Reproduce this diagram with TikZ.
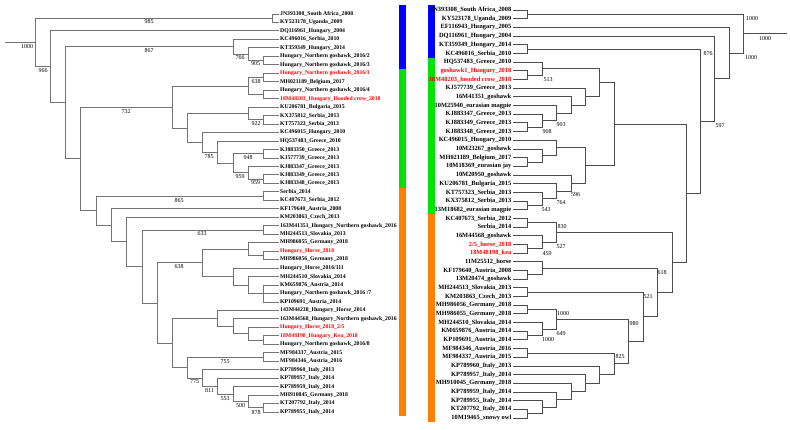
\documentclass[tikz,border=0pt]{standalone}
\usepackage{fontspec}
\setmainfont{Liberation Serif}
\usepackage{tikz, xcolor}
\definecolor{barblue}{RGB}{0,0,255}
\definecolor{bargreen}{RGB}{0,226,0}
\definecolor{barorange}{RGB}{255,128,0}

\begin{document}
\begin{tikzpicture}[x=1pt, y=-1pt]
\tikzstyle{taxl}=[anchor=west, inner sep=1pt, font=\fontsize{5.75}{6}\selectfont\bfseries]
\tikzstyle{taxr}=[anchor=east, inner sep=1pt, font=\fontsize{6.4}{7}\selectfont\bfseries]
\tikzstyle{hot}=[text=red]
\tikzstyle{boot}=[inner sep=0pt, font=\fontsize{6}{6}\selectfont]
\tikzstyle{edgel}=[draw=black!55, line width=0.9pt]
\tikzstyle{edger}=[draw=black!70, line width=0.7pt]

\path[use as bounding box, fill=white] (0,0) rectangle (790,429);

% left tree, taxa
\node[taxl] (L1) at (279,14) {JN393308\_South Africa\_2008};
\node[taxl] (L2) at (279,22.5) {KY523178\_Uganda\_2009};
\node[taxl] (L3) at (279,30.9) {DQ116961\_Hungary\_2004};
\node[taxl] (L4) at (279,39.4) {KC496016\_Serbia\_2010};
\node[taxl] (L5) at (279,47.9) {KT359349\_Hungary\_2014};
\node[taxl] (L6) at (279,56.4) {Hungary\_Northern goshawk\_2016/2};
\node[taxl] (L7) at (279,64.8) {Hungary\_Northern goshawk\_2016/3};
\node[taxl, hot] (L8) at (279,73.3) {Hungary\_Northern goshawk\_2016/1};
\node[taxl] (L9) at (279,81.8) {MH021189\_Belgium\_2017};
\node[taxl] (L10) at (279,90.2) {Hungary\_Northern goshawk\_2016/4};
\node[taxl, hot] (L11) at (279,98.7) {18M48203\_Hungary\_Hooded crow\_2018};
\node[taxl] (L12) at (279,107.2) {KU206781\_Bulgaria\_2015};
\node[taxl] (L13) at (279,115.6) {KX375812\_Serbia\_2013};
\node[taxl] (L14) at (279,124.1) {KT757323\_Serbia\_2013};
\node[taxl] (L15) at (279,132.6) {KC496015\_Hungary\_2010};
\node[taxl] (L16) at (279,141.1) {HQ537483\_Greece\_2010};
\node[taxl] (L17) at (279,149.5) {KJ883350\_Greece\_2013};
\node[taxl] (L18) at (279,158.0) {KJ577739\_Greece\_2013};
\node[taxl] (L19) at (279,166.5) {KJ883347\_Greece\_2013};
\node[taxl] (L20) at (279,174.9) {KJ883349\_Greece\_2013};
\node[taxl] (L21) at (279,183.4) {KJ883348\_Greece\_2013};
\node[taxl] (L22) at (279,191.9) {Serbia\_2014};
\node[taxl] (L23) at (279,200.3) {KC407673\_Serbia\_2012};
\node[taxl] (L24) at (279,208.8) {KF179640\_Austria\_2008};
\node[taxl] (L25) at (279,217.3) {KM203863\_Czech\_2013};
\node[taxl] (L26) at (279,225.8) {163M41351\_Hungary\_Northern goshawk\_2016};
\node[taxl] (L27) at (279,234.2) {MH244513\_Slovakia\_2013};
\node[taxl] (L28) at (279,242.7) {MH986055\_Germany\_2018};
\node[taxl, hot] (L29) at (279,251.2) {Hungary\_Horse\_2018};
\node[taxl] (L30) at (279,259.6) {MH986056\_Germany\_2018};
\node[taxl] (L31) at (279,268.1) {Hungary\_Horse\_2016/111};
\node[taxl] (L32) at (279,276.6) {MH244510\_Slovakia\_2014};
\node[taxl] (L33) at (279,285.0) {KM659876\_Austria\_2014};
\node[taxl] (L34) at (279,293.5) {Hungary\_Northern goshawk\_2016 /7};
\node[taxl] (L35) at (279,302.0) {KP109691\_Austria\_2014};
\node[taxl] (L36) at (279,310.5) {143M44238\_Hungary\_Horse\_2014};
\node[taxl] (L37) at (279,318.9) {163M44568\_Hungary\_Northern goshawk\_2016};
\node[taxl, hot] (L38) at (279,327.4) {Hungary\_Horse\_2018\_2/5};
\node[taxl, hot] (L39) at (279,335.9) {18M48198\_Hungary\_Kea\_2018};
\node[taxl] (L40) at (279,344.3) {Hungary\_Northern goshawk\_2016/8};
\node[taxl] (L41) at (279,352.8) {MF984337\_Austria\_2015};
\node[taxl] (L42) at (279,361.3) {MF984346\_Austria\_2016};
\node[taxl] (L43) at (279,369.7) {KP789960\_Italy\_2013};
\node[taxl] (L44) at (279,378.2) {KP789957\_Italy\_2014};
\node[taxl] (L45) at (279,386.7) {KP789959\_Italy\_2014};
\node[taxl] (L46) at (279,395.2) {MH910845\_Germany\_2018};
\node[taxl] (L47) at (279,403.6) {KT207792\_Italy\_2014};
\node[taxl] (L48) at (279,412.1) {KP789955\_Italy\_2014};

% left tree, inner nodes
\coordinate (A1) at (272,18.2);
\coordinate (A2) at (263,60.6);
\coordinate (A3) at (248,54.2);
\coordinate (A4) at (233,46.8);
\coordinate (A5) at (263,77.5);
\coordinate (A6) at (263,94.5);
\coordinate (A7) at (248,86.0);
\coordinate (A8) at (263,119.9);
\coordinate (A9) at (248,113.5);
\coordinate (A10) at (263,153.8);
\coordinate (A11) at (263,179.2);
\coordinate (A12) at (248,172.8);
\coordinate (A13) at (233,163.3);
\coordinate (A14) at (217,152.2);
\coordinate (A15) at (202,142.4);
\coordinate (A16) at (187,128.0);
\coordinate (A17) at (172,107.0);
\coordinate (A18) at (263,196.1);
\coordinate (A19) at (263,230.0);
\coordinate (A20) at (263,255.4);
\coordinate (A21) at (248,249.1);
\coordinate (A22) at (263,293.5);
\coordinate (A23) at (248,285.1);
\coordinate (A24) at (233,276.6);
\coordinate (A25) at (202,262.9);
\coordinate (A26) at (263,340.1);
\coordinate (A27) at (248,333.8);
\coordinate (A28) at (233,326.4);
\coordinate (A29) at (217,318.5);
\coordinate (A30) at (263,357.1);
\coordinate (A31) at (263,407.9);
\coordinate (A32) at (248,401.6);
\coordinate (A33) at (233,394.2);
\coordinate (A34) at (217,386.2);
\coordinate (A35) at (202,378.0);
\coordinate (A36) at (187,367.6);
\coordinate (A37) at (172,343.1);
\coordinate (A38) at (157,303.0);
\coordinate (A39) at (142,266.5);
\coordinate (A40) at (126,241.9);
\coordinate (A41) at (111,225.4);
\coordinate (A42) at (96,210.8);
\coordinate (A43) at (80,158.9);
\coordinate (A44) at (65,102.9);
\coordinate (A45) at (50,66.9);
\coordinate (A46) at (35,42.6);
\coordinate (L0) at (5,42.6);

% left tree, branches
\draw[edgel] (A1) |- (L1) (A1) |- (L2);
\draw[edgel] (A2) |- (L6) (A2) |- (L7);
\draw[edgel] (A3) |- (L5) (A3) |- (A2);
\draw[edgel] (A4) |- (L4) (A4) |- (A3);
\draw[edgel] (A5) |- (L8) (A5) |- (L9);
\draw[edgel] (A6) |- (L10) (A6) |- (L11);
\draw[edgel] (A7) |- (A5) (A7) |- (A6);
\draw[edgel] (A8) |- (L13) (A8) |- (L14);
\draw[edgel] (A9) |- (L12) (A9) |- (A8);
\draw[edgel] (A10) |- (L17) (A10) |- (L18);
\draw[edgel] (A11) |- (L20) (A11) |- (L21);
\draw[edgel] (A12) |- (L19) (A12) |- (A11);
\draw[edgel] (A13) |- (A10) (A13) |- (A12);
\draw[edgel] (A14) |- (L16) (A14) |- (A13);
\draw[edgel] (A15) |- (L15) (A15) |- (A14);
\draw[edgel] (A16) |- (A9) (A16) |- (A15);
\draw[edgel] (A17) |- (A7) (A17) |- (A16);
\draw[edgel] (A18) |- (L22) (A18) |- (L23);
\draw[edgel] (A19) |- (L26) (A19) |- (L27);
\draw[edgel] (A20) |- (L29) (A20) |- (L30);
\draw[edgel] (A21) |- (L28) (A21) |- (A20);
\draw[edgel] (A22) |- (L33) (A22) |- (L34) (A22) |- (L35);
\draw[edgel] (A23) |- (L32) (A23) |- (A22);
\draw[edgel] (A24) |- (L31) (A24) |- (A23);
\draw[edgel] (A25) |- (A21) (A25) |- (A24);
\draw[edgel] (A26) |- (L39) (A26) |- (L40);
\draw[edgel] (A27) |- (L38) (A27) |- (A26);
\draw[edgel] (A28) |- (L37) (A28) |- (A27);
\draw[edgel] (A29) |- (L36) (A29) |- (A28);
\draw[edgel] (A30) |- (L41) (A30) |- (L42);
\draw[edgel] (A31) |- (L47) (A31) |- (L48);
\draw[edgel] (A32) |- (L46) (A32) |- (A31);
\draw[edgel] (A33) |- (L45) (A33) |- (A32);
\draw[edgel] (A34) |- (L44) (A34) |- (A33);
\draw[edgel] (A35) |- (L43) (A35) |- (A34);
\draw[edgel] (A36) |- (A30) (A36) |- (A35);
\draw[edgel] (A37) |- (A29) (A37) |- (A36);
\draw[edgel] (A38) |- (A25) (A38) |- (A37);
\draw[edgel] (A39) |- (A19) (A39) |- (A38);
\draw[edgel] (A40) |- (L25) (A40) |- (A39);
\draw[edgel] (A41) |- (L24) (A41) |- (A40);
\draw[edgel] (A42) |- (A18) (A42) |- (A41);
\draw[edgel] (A43) |- (A17) (A43) |- (A42);
\draw[edgel] (A44) |- (A4) (A44) |- (A43);
\draw[edgel] (A45) |- (L3) (A45) |- (A44);
\draw[edgel] (A46) |- (A1) (A46) |- (A45);
\draw[edgel] (L0) -- (A46);

% left tree, support values
\node[boot] (s1) at (27,46.5) {1000};
\node[boot] (s2) at (149,22) {985};
\node[boot] (s3) at (43,71) {966};
\node[boot] (s4) at (149,50.5) {867};
\node[boot] (s5) at (240,57.5) {766};
\node[boot] (s6) at (255.5,64) {905};
\node[boot] (s7) at (256,81.5) {638};
\node[boot] (s8) at (256,123.5) {922};
\node[boot] (s9) at (126,111.5) {732};
\node[boot] (s10) at (209,156.5) {785};
\node[boot] (s11) at (248,157.5) {948};
\node[boot] (s12) at (240,176.5) {959};
\node[boot] (s13) at (255.5,183) {959};
\node[boot] (s14) at (179,200.5) {865};
\node[boot] (s15) at (202,234) {633};
\node[boot] (s16) at (179,266.5) {638};
\node[boot] (s17) at (225,361.5) {755};
\node[boot] (s18) at (194.5,382) {775};
\node[boot] (s19) at (209.5,390.5) {811};
\node[boot] (s20) at (225,398.5) {553};
\node[boot] (s21) at (240.5,405.5) {500};
\node[boot] (s22) at (256,413) {878};

% left bars
\fill[barblue] (399,5) rectangle (406,69);
\fill[bargreen] (399,69) rectangle (406,187.6);
\fill[barorange] (399,187.6) rectangle (406,416);

% right bars
\fill[barblue] (428,5) rectangle (435,57.7);
\fill[bargreen] (428,57.7) rectangle (435,214);
\fill[barorange] (428,214) rectangle (435,422);

% right tree, taxa
\node[taxr] (R1) at (512.5,10.0) {JN393308\_South Africa\_2008};
\node[taxr] (R2) at (512.5,18.7) {KY523178\_Uganda\_2009};
\node[taxr] (R3) at (512.5,27.4) {EF116943\_Hungary\_2005};
\node[taxr] (R4) at (512.5,36.0) {DQ116961\_Hungary\_2004};
\node[taxr] (R5) at (512.5,44.7) {KT359349\_Hungary\_2014};
\node[taxr] (R6) at (512.5,53.4) {KC496016\_Serbia\_2010};
\node[taxr] (R7) at (512.5,62.1) {HQ537483\_Greece\_2010};
\node[taxr, hot] (R8) at (512.5,70.8) {goshawk1\_Hungary\_2018};
\node[taxr, hot] (R9) at (512.5,79.4) {18M48203\_hooded crow\_2018};
\node[taxr] (R10) at (512.5,88.1) {KJ577739\_Greece\_2013};
\node[taxr] (R11) at (512.5,96.8) {16M41351\_goshawk};
\node[taxr] (R12) at (512.5,105.5) {10M25940\_eurasian magpie};
\node[taxr] (R13) at (512.5,114.2) {KJ883347\_Greece\_2013};
\node[taxr] (R14) at (512.5,122.8) {KJ883349\_Greece\_2013};
\node[taxr] (R15) at (512.5,131.5) {KJ883348\_Greece\_2013};
\node[taxr] (R16) at (512.5,140.2) {KC496015\_Hungary\_2010};
\node[taxr] (R17) at (512.5,148.9) {10M23267\_goshawk};
\node[taxr] (R18) at (512.5,157.6) {MH021189\_Belgium\_2017};
\node[taxr] (R19) at (512.5,166.2) {10M18369\_eurasian jay};
\node[taxr] (R20) at (512.5,174.9) {10M20950\_goshawk};
\node[taxr] (R21) at (512.5,183.6) {KU206781\_Bulgaria\_2015};
\node[taxr] (R22) at (512.5,192.3) {KT757323\_Serbia\_2013};
\node[taxr] (R23) at (512.5,201.0) {KX375812\_Serbia\_2013};
\node[taxr] (R24) at (512.5,209.6) {13M18682\_eurasian magpie};
\node[taxr] (R25) at (512.5,218.3) {KC407673\_Serbia\_2012};
\node[taxr] (R26) at (512.5,227.0) {Serbia\_2014};
\node[taxr] (R27) at (512.5,235.7) {16M44568\_goshawk};
\node[taxr, hot] (R28) at (512.5,244.4) {2/5\_horse\_2018};
\node[taxr, hot] (R29) at (512.5,253.0) {18M48198\_kea};
\node[taxr] (R30) at (512.5,261.7) {11M25512\_horse};
\node[taxr] (R31) at (512.5,270.4) {KF179640\_Austria\_2008};
\node[taxr] (R32) at (512.5,279.1) {13M20474\_goshawk};
\node[taxr] (R33) at (512.5,287.8) {MH244513\_Slovakia\_2013};
\node[taxr] (R34) at (512.5,296.4) {KM203863\_Czech\_2013};
\node[taxr] (R35) at (512.5,305.1) {MH986056\_Germany\_2018};
\node[taxr] (R36) at (512.5,313.8) {MH986055\_Germany\_2018};
\node[taxr] (R37) at (512.5,322.5) {MH244510\_Slovakia\_2014};
\node[taxr] (R38) at (512.5,331.2) {KM659876\_Austria\_2014};
\node[taxr] (R39) at (512.5,339.8) {KP109691\_Austria\_2014};
\node[taxr] (R40) at (512.5,348.5) {MF984346\_Austria\_2016};
\node[taxr] (R41) at (512.5,357.2) {MF984337\_Austria\_2015};
\node[taxr] (R42) at (512.5,365.9) {KP789960\_Italy\_2013};
\node[taxr] (R43) at (512.5,374.6) {KP789957\_Italy\_2014};
\node[taxr] (R44) at (512.5,383.2) {MH910045\_Germany\_2018};
\node[taxr] (R45) at (512.5,391.9) {KP789959\_Italy\_2014};
\node[taxr] (R46) at (512.5,400.6) {KP789955\_Italy\_2014};
\node[taxr] (R47) at (512.5,409.3) {KT207792\_Italy\_2014};
\node[taxr] (R48) at (512.5,418.0) {10M19465\_snowy owl};

% right tree, inner nodes
\coordinate (B1) at (527,14.35);
\coordinate (B2) at (527,49.05);
\coordinate (B3) at (527,75.1);
\coordinate (B4) at (542,68.6);
\coordinate (B5) at (527,127.15);
\coordinate (B6) at (542,120.7);
\coordinate (B7) at (556,113.1);
\coordinate (B8) at (571,104.95);
\coordinate (B9) at (585,96.5);
\coordinate (B10) at (599,82.55);
\coordinate (B11) at (527,161.9);
\coordinate (B12) at (542,155.4);
\coordinate (B13) at (556,147.8);
\coordinate (B14) at (527,205.3);
\coordinate (B15) at (542,198.8);
\coordinate (B16) at (556,191.2);
\coordinate (B17) at (571,183.05);
\coordinate (B18) at (585,165.4);
\coordinate (B19) at (614,124.0);
\coordinate (B20) at (527,222.65);
\coordinate (B21) at (527,248.7);
\coordinate (B22) at (542,242.2);
\coordinate (B23) at (556,232.4);
\coordinate (B24) at (527,274.75);
\coordinate (B25) at (542,268.2);
\coordinate (B26) at (527,292.1);
\coordinate (B27) at (527,309.45);
\coordinate (B28) at (527,335.5);
\coordinate (B29) at (542,329.0);
\coordinate (B30) at (556,319.2);
\coordinate (B31) at (527,352.85);
\coordinate (B32) at (527,413.65);
\coordinate (B33) at (542,407.1);
\coordinate (B34) at (556,399.5);
\coordinate (B35) at (571,391.35);
\coordinate (B36) at (585,383.0);
\coordinate (B37) at (599,374.45);
\coordinate (B38) at (614,363.65);
\coordinate (B39) at (628,341.4);
\coordinate (B40) at (643,316.75);
\coordinate (B41) at (657,292.5);
\coordinate (B42) at (672,262.45);
\coordinate (B43) at (686,193.2);
\coordinate (B44) at (700,121.1);
\coordinate (B45) at (714,78.55);
\coordinate (B46) at (729,53.0);
\coordinate (B47) at (743,33.7);
\coordinate (R0) at (787,33.7);

% right tree, branches
\draw[edger] (B1) |- (R1) (B1) |- (R2);
\draw[edger] (B2) |- (R5) (B2) |- (R6);
\draw[edger] (B3) |- (R8) (B3) |- (R9);
\draw[edger] (B4) |- (R7) (B4) |- (B3);
\draw[edger] (B5) |- (R14) (B5) |- (R15);
\draw[edger] (B6) |- (R13) (B6) |- (B5);
\draw[edger] (B7) |- (R12) (B7) |- (B6);
\draw[edger] (B8) |- (R11) (B8) |- (B7);
\draw[edger] (B9) |- (R10) (B9) |- (B8);
\draw[edger] (B10) |- (B4) (B10) |- (B9);
\draw[edger] (B11) |- (R18) (B11) |- (R19);
\draw[edger] (B12) |- (R17) (B12) |- (B11);
\draw[edger] (B13) |- (R16) (B13) |- (B12);
\draw[edger] (B14) |- (R23) (B14) |- (R24);
\draw[edger] (B15) |- (R22) (B15) |- (B14);
\draw[edger] (B16) |- (R21) (B16) |- (B15);
\draw[edger] (B17) |- (R20) (B17) |- (B16);
\draw[edger] (B18) |- (B13) (B18) |- (B17);
\draw[edger] (B19) |- (B10) (B19) |- (B18);
\draw[edger] (B20) |- (R25) (B20) |- (R26);
\draw[edger] (B21) |- (R28) (B21) |- (R29);
\draw[edger] (B22) |- (R27) (B22) |- (B21);
\draw[edger] (B23) |- (B20) (B23) |- (B22);
\draw[edger] (B24) |- (R31) (B24) |- (R32);
\draw[edger] (B25) |- (R30) (B25) |- (B24);
\draw[edger] (B26) |- (R33) (B26) |- (R34);
\draw[edger] (B27) |- (R35) (B27) |- (R36);
\draw[edger] (B28) |- (R38) (B28) |- (R39);
\draw[edger] (B29) |- (R37) (B29) |- (B28);
\draw[edger] (B30) |- (B27) (B30) |- (B29);
\draw[edger] (B31) |- (R40) (B31) |- (R41);
\draw[edger] (B32) |- (R47) (B32) |- (R48);
\draw[edger] (B33) |- (R46) (B33) |- (B32);
\draw[edger] (B34) |- (R45) (B34) |- (B33);
\draw[edger] (B35) |- (R44) (B35) |- (B34);
\draw[edger] (B36) |- (R43) (B36) |- (B35);
\draw[edger] (B37) |- (R42) (B37) |- (B36);
\draw[edger] (B38) |- (B31) (B38) |- (B37);
\draw[edger] (B39) |- (B30) (B39) |- (B38);
\draw[edger] (B40) |- (B26) (B40) |- (B39);
\draw[edger] (B41) |- (B25) (B41) |- (B40);
\draw[edger] (B42) |- (B23) (B42) |- (B41);
\draw[edger] (B43) |- (B19) (B43) |- (B42);
\draw[edger] (B44) |- (B2) (B44) |- (B43);
\draw[edger] (B45) |- (R4) (B45) |- (B44);
\draw[edger] (B46) |- (R3) (B46) |- (B45);
\draw[edger] (B47) |- (B1) (B47) |- (B46);
\draw[edger] (B47) -- (R0);

% right tree, support values
\node[boot] (t1) at (765,38.5) {1000};
\node[boot] (t2) at (752,18.5) {1000};
\node[boot] (t3) at (751,57.5) {1000};
\node[boot] (t4) at (708,53.5) {876};
\node[boot] (t5) at (720,125.5) {597};
\node[boot] (t6) at (548,79.5) {513};
\node[boot] (t7) at (561,124.5) {903};
\node[boot] (t8) at (547,131.5) {908};
\node[boot] (t9) at (575.5,194.5) {596};
\node[boot] (t10) at (561,202.5) {764};
\node[boot] (t11) at (546,209.5) {543};
\node[boot] (t12) at (562,226.5) {830};
\node[boot] (t13) at (561,246.5) {527};
\node[boot] (t14) at (547,253.5) {459};
\node[boot] (t15) at (662,272.5) {618};
\node[boot] (t16) at (648,296.5) {521};
\node[boot] (t17) at (563,313.5) {1000};
\node[boot] (t18) at (634,323.5) {980};
\node[boot] (t19) at (561,333.5) {649};
\node[boot] (t20) at (548,339.5) {1000};
\node[boot] (t21) at (620,356.5) {825};
\end{tikzpicture}
\end{document}
